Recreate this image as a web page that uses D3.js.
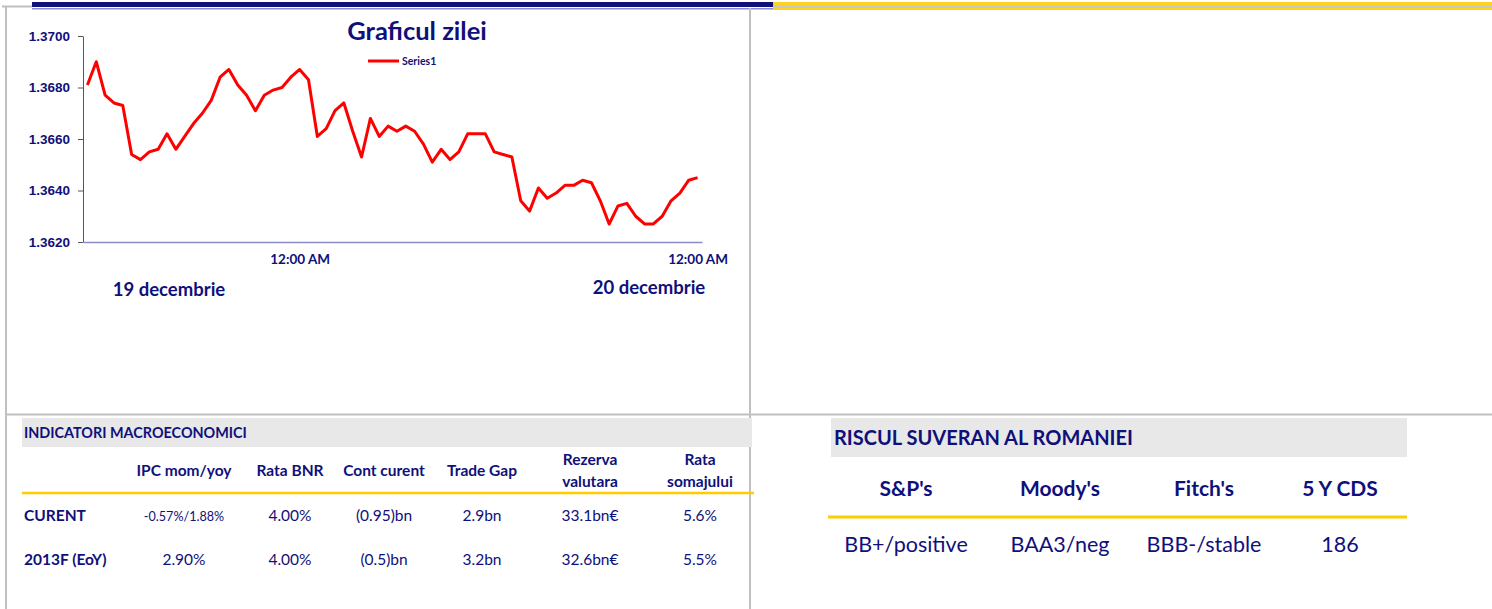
<!DOCTYPE html>
<html>
<head>
<meta charset="utf-8">
<script src="https://cdn.jsdelivr.net/npm/d3@7"></script>
<style>
  body { margin: 0; background: #fff; }
  svg { display: block; font-family: Lato, "Open Sans", sans-serif; }
</style>
</head>
<body>
<svg id="page" width="1492" height="609"></svg>
<script>
// --- date grafic (curs intraday) ---
const cursValori = [
  1.3681, 1.3690, 1.3677, 1.3674, 1.3673, 1.3654, 1.3652, 1.3655, 1.3656, 1.3662,
  1.3656, 1.3661, 1.3666, 1.3670, 1.3675, 1.3684, 1.3687, 1.3681, 1.3677, 1.3671,
  1.3677, 1.3679, 1.3680, 1.3684, 1.3687, 1.3683, 1.3661, 1.3664, 1.3671, 1.3674,
  1.3663, 1.3653, 1.3668, 1.3661, 1.3665, 1.3663, 1.3665, 1.3663, 1.3658, 1.3651,
  1.3656, 1.3652, 1.3655, 1.3662, 1.3662, 1.3662, 1.3655, 1.3654, 1.3653, 1.3636,
  1.3632, 1.3641, 1.3637, 1.3639, 1.3642, 1.3642, 1.3644, 1.3643, 1.3636, 1.3627,
  1.3634, 1.3635, 1.3630, 1.3627, 1.3627, 1.3630, 1.3636, 1.3639, 1.3644, 1.3645
];
const yTicks = [1.3620, 1.3640, 1.3660, 1.3680, 1.3700];
const xTickIdx = [24, 69];
const xTickLabels = ["12:00 AM", "12:00 AM"];
const zile = ["19 decembrie", "20 decembrie"];

// --- tabel indicatori ---
const indicatoriCols = [["IPC mom/yoy"], ["Rata BNR"], ["Cont curent"], ["Trade Gap"], ["Rezerva", "valutara"], ["Rata", "somajului"]];
const indicatoriRows = ["CURENT", "2013F (EoY)"];
const indicatoriVals = [
  ["-0.57%/1.88%", "4.00%", "(0.95)bn", "2.9bn", "33.1bn€", "5.6%"],
  ["2.90%", "4.00%", "(0.5)bn", "3.2bn", "32.6bn€", "5.5%"]
];

// --- tabel risc suveran ---
const riscCols = ["S&P's", "Moody's", "Fitch's", "5 Y CDS"];
const riscVals = ["BB+/positive", "BAA3/neg", "BBB-/stable", "186"];

const navy = "#10107a";
const svg = d3.select("#page");

// ---- chenar / linii de separare ----
svg.append("rect").attr("x", 32).attr("y", 2).attr("width", 741).attr("height", 5).attr("fill", "#10107a");
svg.append("rect").attr("x", 32).attr("y", 8).attr("width", 741).attr("height", 1.5).attr("fill", "#8a8ad0");
svg.append("rect").attr("x", 773).attr("y", 2).attr("width", 719).attr("height", 8).attr("fill", "#ffd21f");
svg.append("rect").attr("x", 773).attr("y", 5.5).attr("width", 719).attr("height", 2).attr("fill", "#c8c8c8");
svg.append("rect").attr("x", 2).attr("y", 5.5).attr("width", 30).attr("height", 2).attr("fill", "#c0c0c0");

const gray = "#c0c0c0";
svg.append("line").attr("x1", 6).attr("x2", 6).attr("y1", 6).attr("y2", 609).attr("stroke", gray).attr("stroke-width", 2);
svg.append("line").attr("x1", 750).attr("x2", 750).attr("y1", 8).attr("y2", 609).attr("stroke", gray).attr("stroke-width", 2);
svg.append("line").attr("x1", 6).attr("x2", 1492).attr("y1", 414.5).attr("y2", 414.5).attr("stroke", gray).attr("stroke-width", 2);

// ---- grafic ----
const x = d3.scalePoint()
  .domain(cursValori.map((d, i) => i))
  .range([83, 702])
  .padding(0.5);

const y = d3.scaleLinear()
  .domain([1.3620, 1.3700])
  .range([242, 36]);

const yAxis = svg.append("g")
  .attr("transform", "translate(83,0)")
  .call(d3.axisLeft(y).tickValues(yTicks).tickFormat(d3.format(".4f")).tickSize(5).tickPadding(8).tickSizeOuter(0));
yAxis.select(".domain").attr("stroke", "#555");
yAxis.selectAll(".tick line").attr("stroke", "#555");
yAxis.selectAll("text")
  .attr("fill", navy)
  .style("font-size", "13.5px")
  .style("font-weight", "bold");

const xAxis = svg.append("g")
  .attr("transform", "translate(0,242)")
  .call(d3.axisBottom(x).tickValues(xTickIdx).tickSize(0).tickPadding(12)
    .tickFormat(i => xTickLabels[xTickIdx.indexOf(i)]));
xAxis.select(".domain").attr("stroke", "#8c8cc8").attr("stroke-width", 1.5);
xAxis.selectAll("text")
  .attr("fill", navy)
  .style("font-family", "Lato, sans-serif")
  .style("font-size", "13.5px")
  .style("font-weight", "bold");

svg.append("path")
  .datum(cursValori)
  .attr("fill", "none")
  .attr("stroke", "#ff0000")
  .attr("stroke-width", 3)
  .attr("stroke-linejoin", "round")
  .attr("d", d3.line().x((d, i) => x(i)).y(d => y(d)));

svg.append("text")
  .attr("x", 417).attr("y", 40)
  .attr("text-anchor", "middle")
  .attr("fill", navy)
  .style("font-size", "25.5px")
  .style("font-weight", "bold")
  .text("Graficul zilei");

// legenda
svg.append("line").attr("x1", 368).attr("x2", 399).attr("y1", 61).attr("y2", 61)
  .attr("stroke", "#ff0000").attr("stroke-width", 3);
svg.append("text").attr("x", 402).attr("y", 64.5)
  .attr("fill", navy).style("font-size", "10.5px").style("font-weight", "bold").text("Series1");

// zile
svg.selectAll(".zi")
  .data(zile)
  .enter()
  .append("text")
  .attr("class", "zi")
  .attr("x", (d, i) => i === 0 ? 169 : 649)
  .attr("y", (d, i) => i === 0 ? 296 : 294)
  .attr("text-anchor", "middle")
  .attr("fill", navy)
  .style("font-size", "18.5px")
  .style("font-weight", "bold")
  .text(d => d);

// ---- tabel indicatori macroeconomici ----
svg.append("rect").attr("x", 22).attr("y", 418).attr("width", 730).attr("height", 29).attr("fill", "#e8e8e8");
svg.append("text").attr("x", 24).attr("y", 438)
  .attr("fill", navy).style("font-size", "14.4px").style("font-weight", "bold")
  .text("INDICATORI MACROECONOMICI");

const colX = [184, 290, 384, 482, 590, 700];

indicatoriCols.forEach((lines, c) => {
  const t = svg.append("text")
    .attr("text-anchor", "middle")
    .attr("fill", navy)
    .style("font-size", "15.5px")
    .style("font-weight", "bold");
  if (lines.length === 1) {
    t.append("tspan").attr("x", colX[c]).attr("y", 476).text(lines[0]);
  } else {
    t.append("tspan").attr("x", colX[c]).attr("y", 465).text(lines[0]);
    t.append("tspan").attr("x", colX[c]).attr("y", 487).text(lines[1]);
  }
});

svg.append("line").attr("x1", 22).attr("x2", 754).attr("y1", 493).attr("y2", 493)
  .attr("stroke", "#ffcc00").attr("stroke-width", 2.5);

const rowY = [521, 565];
indicatoriRows.forEach((r, ri) => {
  svg.append("text").attr("x", 24).attr("y", rowY[ri])
    .attr("fill", navy).style("font-size", "15.5px").style("font-weight", "bold").text(r);
  indicatoriVals[ri].forEach((v, c) => {
    svg.append("text")
      .attr("x", colX[c]).attr("y", rowY[ri])
      .attr("text-anchor", "middle")
      .attr("fill", navy)
      .style("font-size", (ri === 0 && c === 0) ? "12.6px" : "15.5px")
      .text(v);
  });
});

// ---- tabel riscul suveran ----
svg.append("rect").attr("x", 831).attr("y", 418).attr("width", 576).attr("height", 39).attr("fill", "#e8e8e8");
svg.append("text").attr("x", 834).attr("y", 445)
  .attr("fill", navy).style("font-size", "20px").style("font-weight", "bold")
  .text("RISCUL SUVERAN AL ROMANIEI");

const riscX = [906, 1060, 1204, 1340];
riscCols.forEach((c, i) => {
  svg.append("text").attr("x", riscX[i]).attr("y", 496)
    .attr("text-anchor", "middle").attr("fill", navy)
    .style("font-size", "21px").style("font-weight", "bold").text(c);
});
svg.append("line").attr("x1", 828).attr("x2", 1407).attr("y1", 517).attr("y2", 517)
  .attr("stroke", "#ffcc00").attr("stroke-width", 3);
riscVals.forEach((v, i) => {
  svg.append("text").attr("x", riscX[i]).attr("y", 552)
    .attr("text-anchor", "middle").attr("fill", navy)
    .style("font-size", "21.5px").text(v);
});
</script>
</body>
</html>
